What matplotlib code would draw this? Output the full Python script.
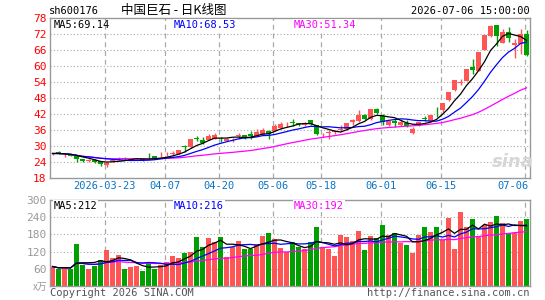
import numpy as np
import pandas as pd
import matplotlib
matplotlib.use('Agg')
import matplotlib.pyplot as plt
import matplotlib.transforms as mtransforms

# daily candles, sh600176, 80 trading days up to 2026-07-06
opens = [26.7, 27.6, 26.3, 26.6, 26.0, 24.8, 24.3, 24.7, 24.1, 22.6,
         24.2, 25.2, 25.4, 24.6, 24.9, 25.1, 25.4, 25.9, 25.9, 26.4,
         26.9, 26.8, 29.9, 29.3, 32.7, 32.2, 32.1, 32.5, 33.0, 31.8,
         32.3, 33.6, 33.9, 34.5, 33.6, 34.1, 35.6, 35.5, 36.6, 37.9,
         38.8, 38.3, 37.6, 39.5, 37.6, 34.2, 34.8, 35.1, 35.9, 36.2,
         39.0, 39.1, 41.4, 39.8, 43.7, 41.1, 37.6, 39.2, 37.7, 38.3,
         34.7, 37.5, 40.2, 39.1, 42.6, 43.3, 47.0, 50.8, 53.5, 54.3,
         59.5, 58.0, 66.0, 71.0, 75.1, 68.6, 72.6, 67.8, 68.1, 72.0]
highs = [27.3, 27.9, 27.0, 26.8, 26.2, 25.0, 25.1, 24.9, 24.3, 23.7,
         24.9, 25.8, 25.6, 25.3, 25.5, 25.3, 27.2, 26.0, 27.4, 27.4,
         27.9, 28.3, 30.1, 32.6, 33.5, 33.2, 34.3, 34.6, 33.3, 32.8,
         32.9, 34.6, 34.0, 35.4, 36.1, 36.6, 35.8, 38.0, 38.8, 38.8,
         39.8, 38.6, 38.9, 39.6, 37.8, 34.8, 35.8, 36.0, 37.8, 38.6,
         40.1, 43.3, 42.0, 43.7, 44.2, 42.0, 39.5, 40.1, 39.7, 39.7,
         37.0, 39.0, 41.0, 41.5, 44.5, 45.9, 50.0, 54.6, 55.1, 58.8,
         62.6, 65.2, 71.4, 75.3, 75.3, 73.8, 74.5, 70.1, 73.8, 73.2]
lows = [26.5, 26.7, 25.8, 25.9, 23.9, 23.9, 23.9, 23.5, 22.4, 21.8,
        24.0, 24.7, 24.6, 24.4, 24.5, 24.2, 24.9, 25.0, 25.6, 25.9,
        26.1, 26.7, 27.6, 29.1, 31.6, 30.4, 32.0, 32.4, 31.4, 31.6,
        31.4, 32.6, 32.4, 32.4, 33.5, 34.0, 32.6, 35.4, 36.2, 37.0,
        37.4, 37.5, 37.4, 37.7, 33.9, 33.1, 32.6, 34.4, 35.0, 36.0,
        37.6, 39.0, 39.6, 39.6, 42.0, 37.6, 37.4, 36.9, 37.4, 36.8,
        34.3, 37.3, 39.3, 39.0, 40.8, 42.6, 46.8, 50.6, 52.6, 54.1,
        57.0, 57.8, 65.8, 70.8, 67.3, 68.4, 69.0, 63.0, 64.5, 63.5]
closes = [27.0, 27.0, 26.6, 26.2, 24.8, 24.1, 24.6, 23.7, 23.0, 23.5,
          24.7, 25.4, 24.8, 25.1, 25.1, 24.4, 25.2, 25.4, 26.2, 26.6,
          27.1, 28.2, 29.6, 32.5, 32.5, 31.1, 33.5, 34.1, 32.7, 32.6,
          32.6, 33.8, 33.1, 33.5, 35.1, 35.9, 34.4, 37.4, 38.1, 38.1,
          38.5, 38.0, 38.5, 37.9, 34.4, 34.5, 35.0, 35.3, 36.1, 38.4,
          39.4, 41.4, 39.8, 43.6, 42.3, 38.7, 39.3, 38.3, 38.8, 37.3,
          36.2, 38.9, 40.0, 41.4, 42.4, 45.8, 49.9, 54.5, 53.7, 58.6,
          58.5, 65.0, 71.3, 74.7, 71.0, 72.6, 70.5, 68.3, 72.0, 63.9]
# volume, in 万手
volumes = [68, 59, 65, 60, 147, 74, 60, 70, 91, 126,
           97, 108, 58, 67, 70, 53, 81, 60, 74, 84,
           105, 96, 115, 120, 171, 136, 168, 153, 171, 101,
           136, 157, 128, 130, 145, 175, 185, 164, 134, 118,
           153, 136, 129, 153, 205, 136, 129, 105, 178, 171,
           157, 192, 126, 174, 167, 212, 178, 185, 150, 143,
           115, 178, 205, 188, 205, 160, 237, 129, 257, 205,
           233, 171, 212, 223, 243, 219, 185, 185, 226, 233]

date_idx = [9, 19, 28, 37, 45, 55, 65, 79]
date_lbl = ['2026-03-23', '04-07', '04-20', '05-06', '05-18', '06-01', '06-15', '07-06']
price_ticks = [18, 24, 30, 36, 42, 48, 54, 60, 66, 72, 78]
vol_ticks = [60, 120, 180, 240, 300]

RED = '#ff5555'
GREEN = '#00a000'
GRID = '#aaaaaa'
MONO = 'DejaVu Sans Mono'
CJK = ['Noto Sans CJK SC', 'DejaVu Sans']

W, H = 545, 300
fig = plt.figure(figsize=(W / 100, H / 100), dpi=100)


def px_axes(x0, y0, x1, y1):
    return fig.add_axes([x0 / W, 1 - y1 / H, (x1 - x0) / W, (y1 - y0) / H])


def ptext(x, y, s, **kw):
    return fig.text(x / W, 1 - y / H, s, **kw)


ax = px_axes(50, 17.5, 530, 177.5)
axv = px_axes(50, 200, 530, 286)

o = np.array(opens)
h = np.array(highs)
l = np.array(lows)
c = np.array(closes)
v = np.array(volumes)
x = np.arange(len(c))
colors = np.where(c >= o, RED, GREEN)

close_s = pd.Series(c)
vol_s = pd.Series(v)
ma = {n: close_s.rolling(n, min_periods=1).mean() for n in (5, 10, 30)}
vma = {n: vol_s.rolling(n, min_periods=1).mean() for n in (5, 10, 30)}
ma_colors = {5: 'black', 10: '#0000ff', 30: '#ff00ff'}

for a in (ax, axv):
    a.set_xlim(-0.4167, 79.583)
    for s in a.spines.values():
        s.set_color('#999999')
        s.set_linewidth(1)
    a.tick_params(length=0)
    a.set_xticks([])
    for d in date_idx:
        a.axvline(d - 0.33, color=GRID, lw=0.9, ls=(0, (4, 3)), zorder=0)

# price panel
ax.set_ylim(18, 78)
for p in price_ticks[1:-1]:
    ax.axhline(p, color=GRID, lw=0.8, ls=(0, (1, 2)), zorder=0)
ax.set_yticks(price_ticks)
ax.set_yticklabels([str(p) for p in price_ticks], color='red', fontsize=8, family=MONO)
ax.tick_params(axis='y', pad=2.5)

ax.vlines(x, l, h, colors=colors, lw=1, zorder=2)
ax.bar(x, np.maximum(np.abs(c - o), 0.12), width=0.8, bottom=np.minimum(o, c),
       color=colors, linewidth=0, zorder=3)
for n in (30, 10, 5):
    ax.plot(x, ma[n], color=ma_colors[n], lw=0.9, zorder=4)

trans = mtransforms.blended_transform_factory(ax.transData, ax.transAxes)
for d, s in zip(date_idx, date_lbl):
    ha = 'center'
    xx = d - 0.33
    if d == date_idx[-1]:
        ha = 'right'
        xx = 79.4
    ax.text(xx, -0.055, s, transform=trans, ha=ha, va='center',
            color='#0a74c4', fontsize=7.5, family=MONO)

# volume panel
axv.set_ylim(0, 300)
for t in vol_ticks[:-1]:
    axv.axhline(t, color=GRID, lw=0.8, ls=(0, (1, 2)), zorder=0)
axv.set_yticks(vol_ticks)
axv.set_yticklabels([str(t) for t in vol_ticks], color='#999999', fontsize=8, family=MONO)
axv.tick_params(axis='y', pad=2.5)
axv.bar(x, v, width=0.78, color=colors, linewidth=0, zorder=2)
for n in (30, 10, 5):
    axv.plot(x, vma[n], color=ma_colors[n], lw=0.9, zorder=3)

# texts
ptext(49, 11, 'sh600176', ha='left', va='center', fontsize=7.5, family=MONO)
ptext(121, 10.5, '中国巨石 - 日K线图', ha='left', va='center', fontsize=9, family=CJK)
ptext(530, 11.5, '2026-07-06 15:00:00', ha='right', va='center', fontsize=7.5, family=MONO)

box = dict(facecolor='white', edgecolor='none', pad=0.5)
ptext(54, 25, 'MA5:69.14', ha='left', va='center', fontsize=7.5, family=MONO, color='black')
ptext(174, 25, 'MA10:68.53', ha='left', va='center', fontsize=7.5, family=MONO,
      color='#0000ff', bbox=box)
ptext(294, 25, 'MA30:51.34', ha='left', va='center', fontsize=7.5, family=MONO,
      color='#ff00ff', bbox=box)

ptext(54, 206, 'MA5:212', ha='left', va='center', fontsize=7.5, family=MONO, color='black',
      bbox=box)
ptext(174, 206, 'MA10:216', ha='left', va='center', fontsize=7.5, family=MONO,
      color='#0000ff', bbox=box)
ptext(294, 206, 'MA30:192', ha='left', va='center', fontsize=7.5, family=MONO,
      color='#ff00ff', bbox=box)

ptext(47, 287, 'x万', ha='right', va='center', fontsize=7, family=CJK, color='#999999',
      style='italic')
ptext(50, 292.5, 'Copyright 2026 SINA.COM', ha='left', va='center', fontsize=7.5,
      family=MONO, color='#555555')
ptext(530, 292.5, 'http://finance.sina.com.cn', ha='right', va='center', fontsize=7.5,
      family=MONO, color='#555555')

# sina watermark
ptext(513, 162, 'sina', ha='center', va='center', fontsize=13, fontweight='bold',
      style='italic', color='#d6d6d6', zorder=1)

fig.savefig('out.png', dpi=100)
